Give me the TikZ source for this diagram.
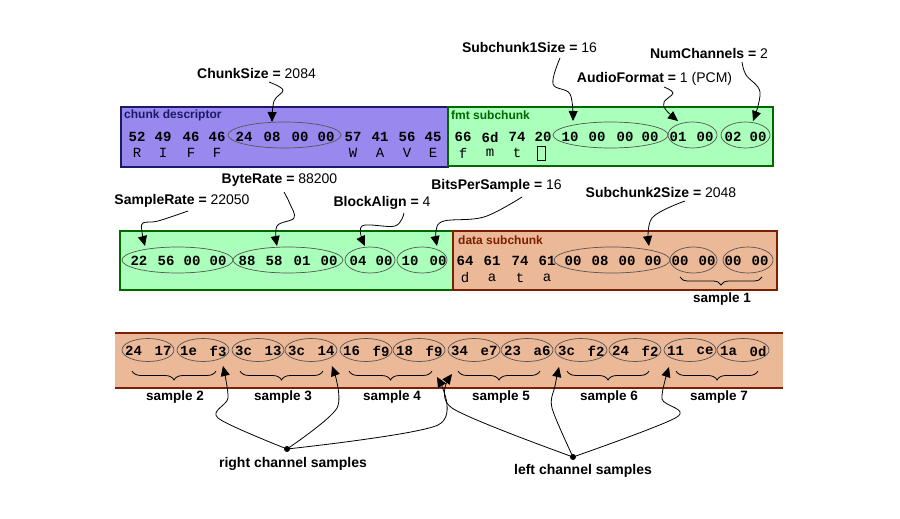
\documentclass[tikz,border=0pt]{standalone}
\usepackage{fontspec}
\setmainfont{Liberation Sans}
\newfontfamily\hexfont{Liberation Mono}
\usetikzlibrary{arrows.meta,shapes.geometric,decorations.pathreplacing}
\definecolor{purplefill}{HTML}{9988EE}
\definecolor{purpleline}{HTML}{1A1A66}
\definecolor{greenfill}{HTML}{AAFFBB}
\definecolor{greenline}{HTML}{006600}
\definecolor{peachfill}{HTML}{EBB898}
\definecolor{peachline}{HTML}{7A1F00}
\definecolor{ovalline}{HTML}{555555}
\tikzset{
  hex/.style={font=\hexfont\bfseries\fontsize{14}{14}\selectfont, inner sep=0pt},
  chr/.style={font=\hexfont\fontsize{14}{14}\selectfont, inner sep=0pt},
  lbl/.style={font=\fontsize{14}{14}\selectfont, inner sep=0pt},
  boxlbl/.style={font=\bfseries\fontsize{12}{12}\selectfont, inner sep=0pt, anchor=west},
  smp/.style={font=\bfseries\fontsize{13.5}{13.5}\selectfont, inner sep=0pt},
  oval/.style={ellipse, draw=ovalline, line width=0.7pt, inner sep=0pt, minimum height=#1},
  oval/.default=26pt,
  arr/.style={line width=0.8pt, -{Triangle[length=10pt,width=9pt]}},
  brc/.style={decorate, decoration={brace, mirror, amplitude=#1}, line width=0.8pt},
  brc/.default=9pt,
}
\begin{document}
\begin{tikzpicture}[x=1pt,y=-1pt]
\useasboundingbox (0,0) rectangle (900,519);
\fill[white] (0,0) rectangle (900,519);

% ---------- Row 1 ----------
\draw[fill=purplefill, draw=purpleline, line width=1.2pt] (121,107) rectangle (448,167);
\draw[fill=greenfill, draw=greenline, line width=1.2pt] (448,107) rectangle (773,166);
\node[boxlbl, text=purpleline] (cd) at (124,115) {chunk descriptor};
\node[boxlbl, text=greenline] (fs) at (451,115) {fmt subchunk};

\foreach \x/\t [count=\i] in {137/52,163/49,191/46,217/46,244/24,272/08,300/00,326/00,353/57,380/41,407/56,433/45,463/66,490/6d,517/74,543/20,570/10,597/00,625/00,650/00,678/01,705/00,733/02,758/00}
  \node[hex] (a\i) at (\x,137) {\t};
\foreach \x/\t [count=\i] in {137/R,163/I,191/F,217/F,353/W,380/A,407/V,433/E,463/f,490/m,517/t}
  \node[chr] (l\i) at (\x,153) {\t};
\draw[line width=1pt] (537.5,146.5) rectangle (545.5,160.5);

\node[oval, minimum width=113pt] (o1) at (284.5,135) {};
\node[oval, minimum width=115pt] (o2) at (610.5,135) {};
\node[oval, minimum width=49pt] (o3) at (692.5,135) {};
\node[oval, minimum width=49pt] (o4) at (745.5,135) {};

\node[lbl] (chunksize) at (256.5,73) {\textbf{ChunkSize =} 2084};
\node[lbl] (sub1) at (529.5,47) {\textbf{Subchunk1Size =} 16};
\node[lbl] (numch) at (709,53) {\textbf{NumChannels =} 2};
\node[lbl] (afmt) at (654.5,79) {\textbf{AudioFormat =} 1 (PCM)};

\coordinate (s1) at (269,82);  \coordinate (t1) at (272,122);
\coordinate (s2) at (560,58);  \coordinate (t2) at (573,121);
\coordinate (s3) at (664,87);  \coordinate (t3) at (678,121);
\coordinate (s4) at (742,62);  \coordinate (t4) at (753,121);
\draw[arr] plot[smooth,tension=0.6] coordinates {(s1) (283,90) (274,101) (t1)};
\draw[arr] plot[smooth,tension=0.6] coordinates {(s2) (553,84) (570,94) (t2)};
\draw[arr] plot[smooth,tension=0.6] coordinates {(s3) (673,93) (664,102) (666,110) (t3)};
\draw[arr] plot[smooth,tension=0.6] coordinates {(s4) (746,75) (760,92) (t4)};

% ---------- Row 2 ----------
\draw[fill=greenfill, draw=greenline, line width=1.2pt] (120,231) rectangle (453,290);
\draw[fill=peachfill, draw=peachline, line width=1.2pt] (453,231) rectangle (777,290);
\node[boxlbl, text=peachline] (ds) at (458,240) {data subchunk};

\foreach \x/\t [count=\i] in {139/22,166/56,192/00,218/00,247/88,274/58,302/01,329/00,358/04,384/00,410/10,438/00,465/64,492/61,520/74,547/61,573/00,600/08,627/00,653/00,680/00,707/00,733/00,760/00}
  \node[hex] (b\i) at (\x,261) {\t};
\foreach \x/\t [count=\i] in {465/d,492/a,520/t,547/a}
  \node[chr] (m\i) at (\x,278) {\t};

\node[oval, minimum width=111pt] (p1) at (177.5,260) {};
\node[oval, minimum width=110pt] (p2) at (288,260) {};
\node[oval, minimum width=50pt] (p3) at (370,260) {};
\node[oval, minimum width=50pt] (p4) at (422,260) {};
\node[oval, minimum width=116pt] (p5) at (612,260) {};
\node[oval, minimum width=47pt] (p6) at (693.5,260) {};
\node[oval, minimum width=50pt] (p7) at (748,260) {};

\coordinate (bs1a) at (680,277); \coordinate (bs1b) at (762,277);
\draw[brc=8pt] (bs1a) -- (bs1b);
\node[smp] (sample1) at (722,299) {sample 1};

\node[lbl] (srate) at (182,201) {\textbf{SampleRate =} 22050};
\node[lbl] (brate) at (279.5,180) {\textbf{ByteRate =} 88200};
\node[lbl] (balign) at (382,203) {\textbf{BlockAlign =} 4};
\node[lbl] (bps) at (496.5,186) {\textbf{BitsPerSample =} 16};
\node[lbl] (sub2) at (661,192) {\textbf{Subchunk2Size =} 2048};

\coordinate (u1) at (188,211); \coordinate (v1) at (145,246);
\coordinate (u2) at (284,192); \coordinate (v2) at (277,246);
\coordinate (u3) at (404,213); \coordinate (v3) at (365,246);
\coordinate (u4) at (522,197); \coordinate (v4) at (437,246);
\coordinate (u5) at (685,201); \coordinate (v5) at (649,246);
\draw[arr] plot[smooth,tension=0.6] coordinates {(u1) (158,221) (143,223) (142,232) (v1)};
\draw[arr] plot[smooth,tension=0.6] coordinates {(u2) (290,204) (294,218) (277,226) (v2)};
\draw[arr] plot[smooth,tension=0.6] coordinates {(u3) (395,226) (362,226) (v3)};
\draw[arr] plot[smooth,tension=0.6] coordinates {(u4) (484,217) (444,221) (436,231) (v4)};
\draw[arr] plot[smooth,tension=0.6] coordinates {(u5) (652,218) (v5)};

% ---------- Row 3 ----------
\fill[peachfill] (115,333) rectangle (783,388);
\draw[peachline, line width=1.2pt] (115,333) -- (783,333);
\draw[peachline, line width=1.2pt] (115,388) -- (783,388);

\foreach \c/\ta/\tb [count=\i] in {148/24/17,203/1e/f3,258/3c/13,311/3c/14,366/16/f9,419/18/f9,474/34/e7,527/23/a6,581/3c/f2,635/24/f2,690/11/ce,743/1a/0d}{
  \node[hex] (c\i a) at (\c-14.5,351) {\ta};
  \node[hex] (c\i b) at (\c+15,351) {\tb};
  \node[oval=23pt, minimum width=52pt] (q\i) at (\c,350) {};
}

\foreach \xa/\xb/\n in {132/216/2,240/323/3,349/432/4,458/540/5,567/649/6,676/758/7}{
  \coordinate (br\n a) at (\xa,371);
  \coordinate (br\n b) at (\xb,371);
  \draw[brc] (br\n a) -- (br\n b);
}
\node[smp] (sample2) at (175,397) {sample 2};
\node[smp] (sample3) at (283,397) {sample 3};
\node[smp] (sample4) at (392,397) {sample 4};
\node[smp] (sample5) at (501,397) {sample 5};
\node[smp] (sample6) at (609,397) {sample 6};
\node[smp] (sample7) at (719,397) {sample 7};

\fill (287,449) circle (3pt) coordinate (rdot);
\fill (573,457) circle (3pt) coordinate (ldot);
\node[lbl, font=\bfseries\fontsize{14}{14}\selectfont] (rcs) at (293,464) {right channel samples};
\node[lbl, font=\bfseries\fontsize{14}{14}\selectfont] (lcs) at (583,471) {left channel samples};

\coordinate (r1) at (223,366); \coordinate (r2) at (332,366); \coordinate (r3) at (437,377);
\coordinate (k1) at (452,374); \coordinate (k2) at (559,367); \coordinate (k3) at (669,367);
\draw[arr] plot[smooth,tension=0.5] coordinates {(rdot) (218,418) (228,398) (r1)};
\draw[arr] plot[smooth,tension=0.5] coordinates {(rdot) (337,408) (r2)};
\draw[arr] plot[smooth,tension=0.5] coordinates {(rdot) (438,425) (r3)};
\draw[arr] plot[smooth,tension=0.5] coordinates {(ldot) (452,408) (k1)};
\draw[arr] plot[smooth,tension=0.5] coordinates {(ldot) (552,408) (555,386) (k2)};
\draw[arr] plot[smooth,tension=0.5] coordinates {(ldot) (677,417) (662,399) (k3)};
\end{tikzpicture}
\end{document}
